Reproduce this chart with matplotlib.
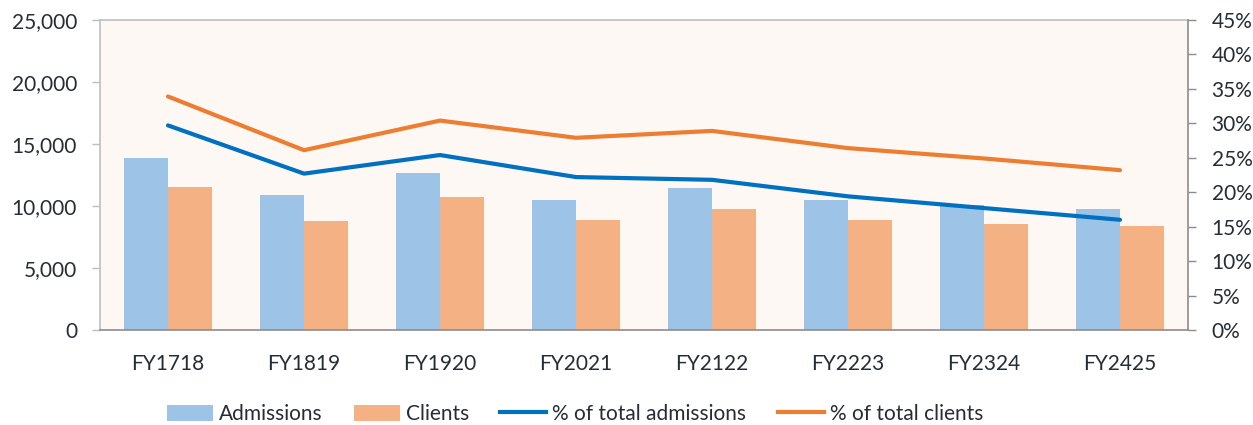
import matplotlib
matplotlib.use("Agg")
import matplotlib.pyplot as plt
import numpy as np
from matplotlib.ticker import FuncFormatter, MultipleLocator
from matplotlib.patches import Patch
from matplotlib.lines import Line2D

categories = ["FY1718", "FY1819", "FY1920", "FY2021", "FY2122", "FY2223", "FY2324", "FY2425"]
admissions = [13850, 10890, 12690, 10460, 11430, 10480, 10050, 9760]
clients = [11540, 8790, 10700, 8900, 9760, 8870, 8550, 8360]
pct_admissions = [29.7, 22.7, 25.4, 22.2, 21.8, 19.4, 17.7, 16.0]
pct_clients = [33.9, 26.1, 30.4, 27.9, 28.9, 26.4, 24.9, 23.2]

plt.rcParams['font.family'] = ['Lato', 'DejaVu Sans']
text_color = '#262d36'
fs = 15

fig = plt.figure(figsize=(12.53, 4.25), dpi=100)
ax = fig.add_axes([100/1253, 95/425, 1088/1253, 310/425])
ax.set_facecolor('#FDF8F4')

x = np.arange(len(categories))
w = 0.325
ax.bar(x - w/2, admissions, width=w, color='#9DC3E6', zorder=2)
ax.bar(x + w/2, clients, width=w, color='#F4B183', zorder=2)
ax.set_xlim(-0.5, len(categories) - 0.5)
ax.set_ylim(0, 25000)
ax.yaxis.set_major_locator(MultipleLocator(5000))
ax.yaxis.set_major_formatter(FuncFormatter(lambda v, p: f"{int(v):,}"))
ax.set_xticks(x)
ax.set_xticklabels(categories)
ax.tick_params(axis='x', length=0, pad=17, labelsize=fs, colors=text_color)
ax.tick_params(axis='y', length=6, width=1, color='#BFBFBF', pad=10.5, labelsize=fs, labelcolor=text_color)
for s in ['left', 'top']:
    ax.spines[s].set_color('#BFBFBF')
    ax.spines[s].set_linewidth(1.2)
ax.spines['bottom'].set_color('#8c8c8c')
ax.spines['bottom'].set_linewidth(1.2)
ax.spines['right'].set_visible(False)

ax2 = ax.twinx()
ax2.plot(x, pct_admissions, color='#0070C0', lw=3, solid_capstyle='round', zorder=3)
ax2.plot(x, pct_clients, color='#ED7D31', lw=3, solid_capstyle='round', zorder=3)
ax2.set_ylim(0, 45)
ax2.yaxis.set_major_locator(MultipleLocator(5))
ax2.yaxis.set_major_formatter(FuncFormatter(lambda v, p: f"{int(round(v))}%"))
ax2.tick_params(axis='y', length=6, width=1, color='#8c8c8c', pad=11, labelsize=fs, labelcolor=text_color)
for s in ['left', 'top', 'bottom']:
    ax2.spines[s].set_visible(False)
ax2.spines['right'].set_color('#8c8c8c')
ax2.spines['right'].set_linewidth(1.2)

handles = [
    Patch(facecolor='#9DC3E6', label='Admissions'),
    Patch(facecolor='#F4B183', label='Clients'),
    Line2D([0], [0], color='#0070C0', lw=3, label='% of total admissions'),
    Line2D([0], [0], color='#ED7D31', lw=3, label='% of total clients'),
]
fig.legend(handles=handles, loc='center', bbox_to_anchor=(575/1253, 1 - 414/425), ncol=4,
           frameon=False, fontsize=fs, handlelength=2.2, handleheight=0.8, columnspacing=1.5,
           handletextpad=0.3, labelcolor=text_color)

fig.savefig('out.png', dpi=100, facecolor='white')
